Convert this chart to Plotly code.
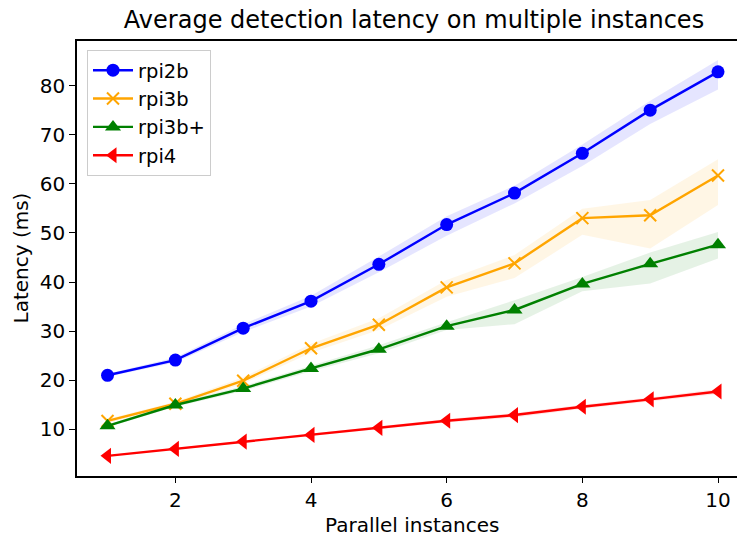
import plotly.graph_objects as go

x = [1, 2, 3, 4, 5, 6, 7, 8, 9, 10]

rpi2b = [21.0, 24.1, 30.6, 36.1, 43.6, 51.7, 58.1, 66.2, 75.0, 82.8]
rpi2b_lo = [20.7, 23.6, 29.8, 35.0, 42.0, 49.4, 56.0, 63.6, 72.2, 79.2]
rpi2b_hi = [21.3, 24.6, 31.4, 37.2, 45.2, 53.4, 59.6, 68.0, 76.9, 85.2]

rpi3b = [11.7, 15.2, 19.9, 26.5, 31.3, 38.9, 43.8, 53.0, 53.6, 61.7]
rpi3b_lo = [11.3, 14.8, 19.3, 25.6, 30.2, 37.0, 40.8, 49.6, 46.8, 55.7]
rpi3b_hi = [12.1, 15.6, 20.6, 27.4, 32.6, 40.4, 45.5, 54.9, 56.7, 65.0]

rpi3bp = [10.7, 14.95, 18.3, 22.4, 26.3, 31.0, 34.3, 39.6, 43.7, 47.6]
rpi3bp_lo = [10.4, 14.6, 17.8, 21.8, 25.5, 30.2, 31.4, 38.1, 39.7, 44.8]
rpi3bp_hi = [11.0, 15.3, 18.8, 23.0, 27.1, 31.8, 36.3, 41.0, 46.0, 50.2]

rpi4 = [4.6, 6.0, 7.5, 8.85, 10.3, 11.75, 12.9, 14.6, 16.1, 17.7]
rpi4_lo = [4.5, 5.85, 7.3, 8.6, 10.0, 11.4, 12.4, 14.2, 15.7, 17.2]
rpi4_hi = [4.7, 6.15, 7.7, 9.1, 10.6, 12.1, 13.3, 15.0, 16.5, 18.2]

names = ["rpi2b", "rpi3b", "rpi3b+", "rpi4"]
series = [rpi2b, rpi3b, rpi3bp, rpi4]
lows = [rpi2b_lo, rpi3b_lo, rpi3bp_lo, rpi4_lo]
highs = [rpi2b_hi, rpi3b_hi, rpi3bp_hi, rpi4_hi]
colors = ["#0000ff", "#ffa500", "#008000", "#ff0000"]
bands = ["rgba(0,0,255,0.1)", "rgba(255,165,0,0.1)", "rgba(0,128,0,0.1)", "rgba(255,0,0,0.1)"]
symbols = ["circle", "x-thin", "triangle-up", "triangle-left"]
sizes = [13, 12, 14, 14]

FONT = "DejaVu Sans"
FS = 20
fig = go.Figure()

for lo, hi, bc in zip(lows, highs, bands):
    fig.add_trace(go.Scatter(
        x=x + x[::-1], y=hi + lo[::-1], fill="toself", fillcolor=bc,
        line=dict(width=0), mode="lines", showlegend=False, hoverinfo="skip"))

for name, ys, c, s, sz in zip(names, series, colors, symbols, sizes):
    marker = dict(symbol=s, size=sz, color=c)
    if s == "x-thin":
        marker["line"] = dict(color=c, width=2)
    else:
        marker["line"] = dict(width=0)
    fig.add_trace(go.Scatter(
        x=x, y=ys, name=name, mode="lines+markers",
        line=dict(color=c, width=2.4), marker=marker))

W, H = 737, 538
L, R, T, B = 77, 0, 41, 62
pw = W - L - R

fig.update_layout(
    width=W, height=H,
    margin=dict(l=L, r=R, t=T, b=B, pad=0),
    paper_bgcolor="white", plot_bgcolor="white",
    font=dict(family=FONT, size=FS, color="black"),
    title=dict(text="Average detection latency on multiple instances",
               x=(414 - L) / pw, xref="paper", xanchor="center",
               y=1 - 20 / H, yref="container", yanchor="middle",
               font=dict(size=24, family=FONT, color="black")),
    showlegend=True,
    legend=dict(x=(87 - L) / pw, y=(H - B - 50) / (H - T - B), xanchor="left", yanchor="top",
                bgcolor="rgba(255,255,255,0.8)", bordercolor="#cccccc", borderwidth=1,
                font=dict(size=19.5, family=FONT, color="black"),
                tracegroupgap=0, itemwidth=40),
    xaxis=dict(range=[0.55, 10.28], tickvals=[2, 4, 6, 8, 10], ticktext=["2", "4", "6", "8", "10"],
               showgrid=False, zeroline=False, showline=True, linecolor="black", linewidth=1.5,
               mirror=True, ticks="outside", ticklen=5, tickwidth=1.4, tickcolor="black",
               tickfont=dict(size=FS, family=FONT, color="black")),
    yaxis=dict(range=[0.49, 89.08], tickvals=[10, 20, 30, 40, 50, 60, 70, 80],
               showgrid=False, zeroline=False, showline=True, linecolor="black", linewidth=1.5,
               mirror=False, ticks="outside", ticklen=6, tickwidth=1.4, tickcolor="black",
               tickfont=dict(size=FS, family=FONT, color="black")),
    annotations=[
        dict(text="Parallel instances", x=(412 - L) / pw, xref="paper", y=-(525 - (H - B)) / (H - T - B),
             yref="paper", xanchor="center", yanchor="middle", showarrow=False,
             font=dict(size=FS, family=FONT, color="black")),
        dict(text="Latency (ms)", x=-(L - 20) / pw, xref="paper", y=0.5, yref="paper",
             xanchor="center", yanchor="middle", textangle=-90, showarrow=False,
             font=dict(size=FS, family=FONT, color="black")),
    ],
)

fig.write_html("out.html")
